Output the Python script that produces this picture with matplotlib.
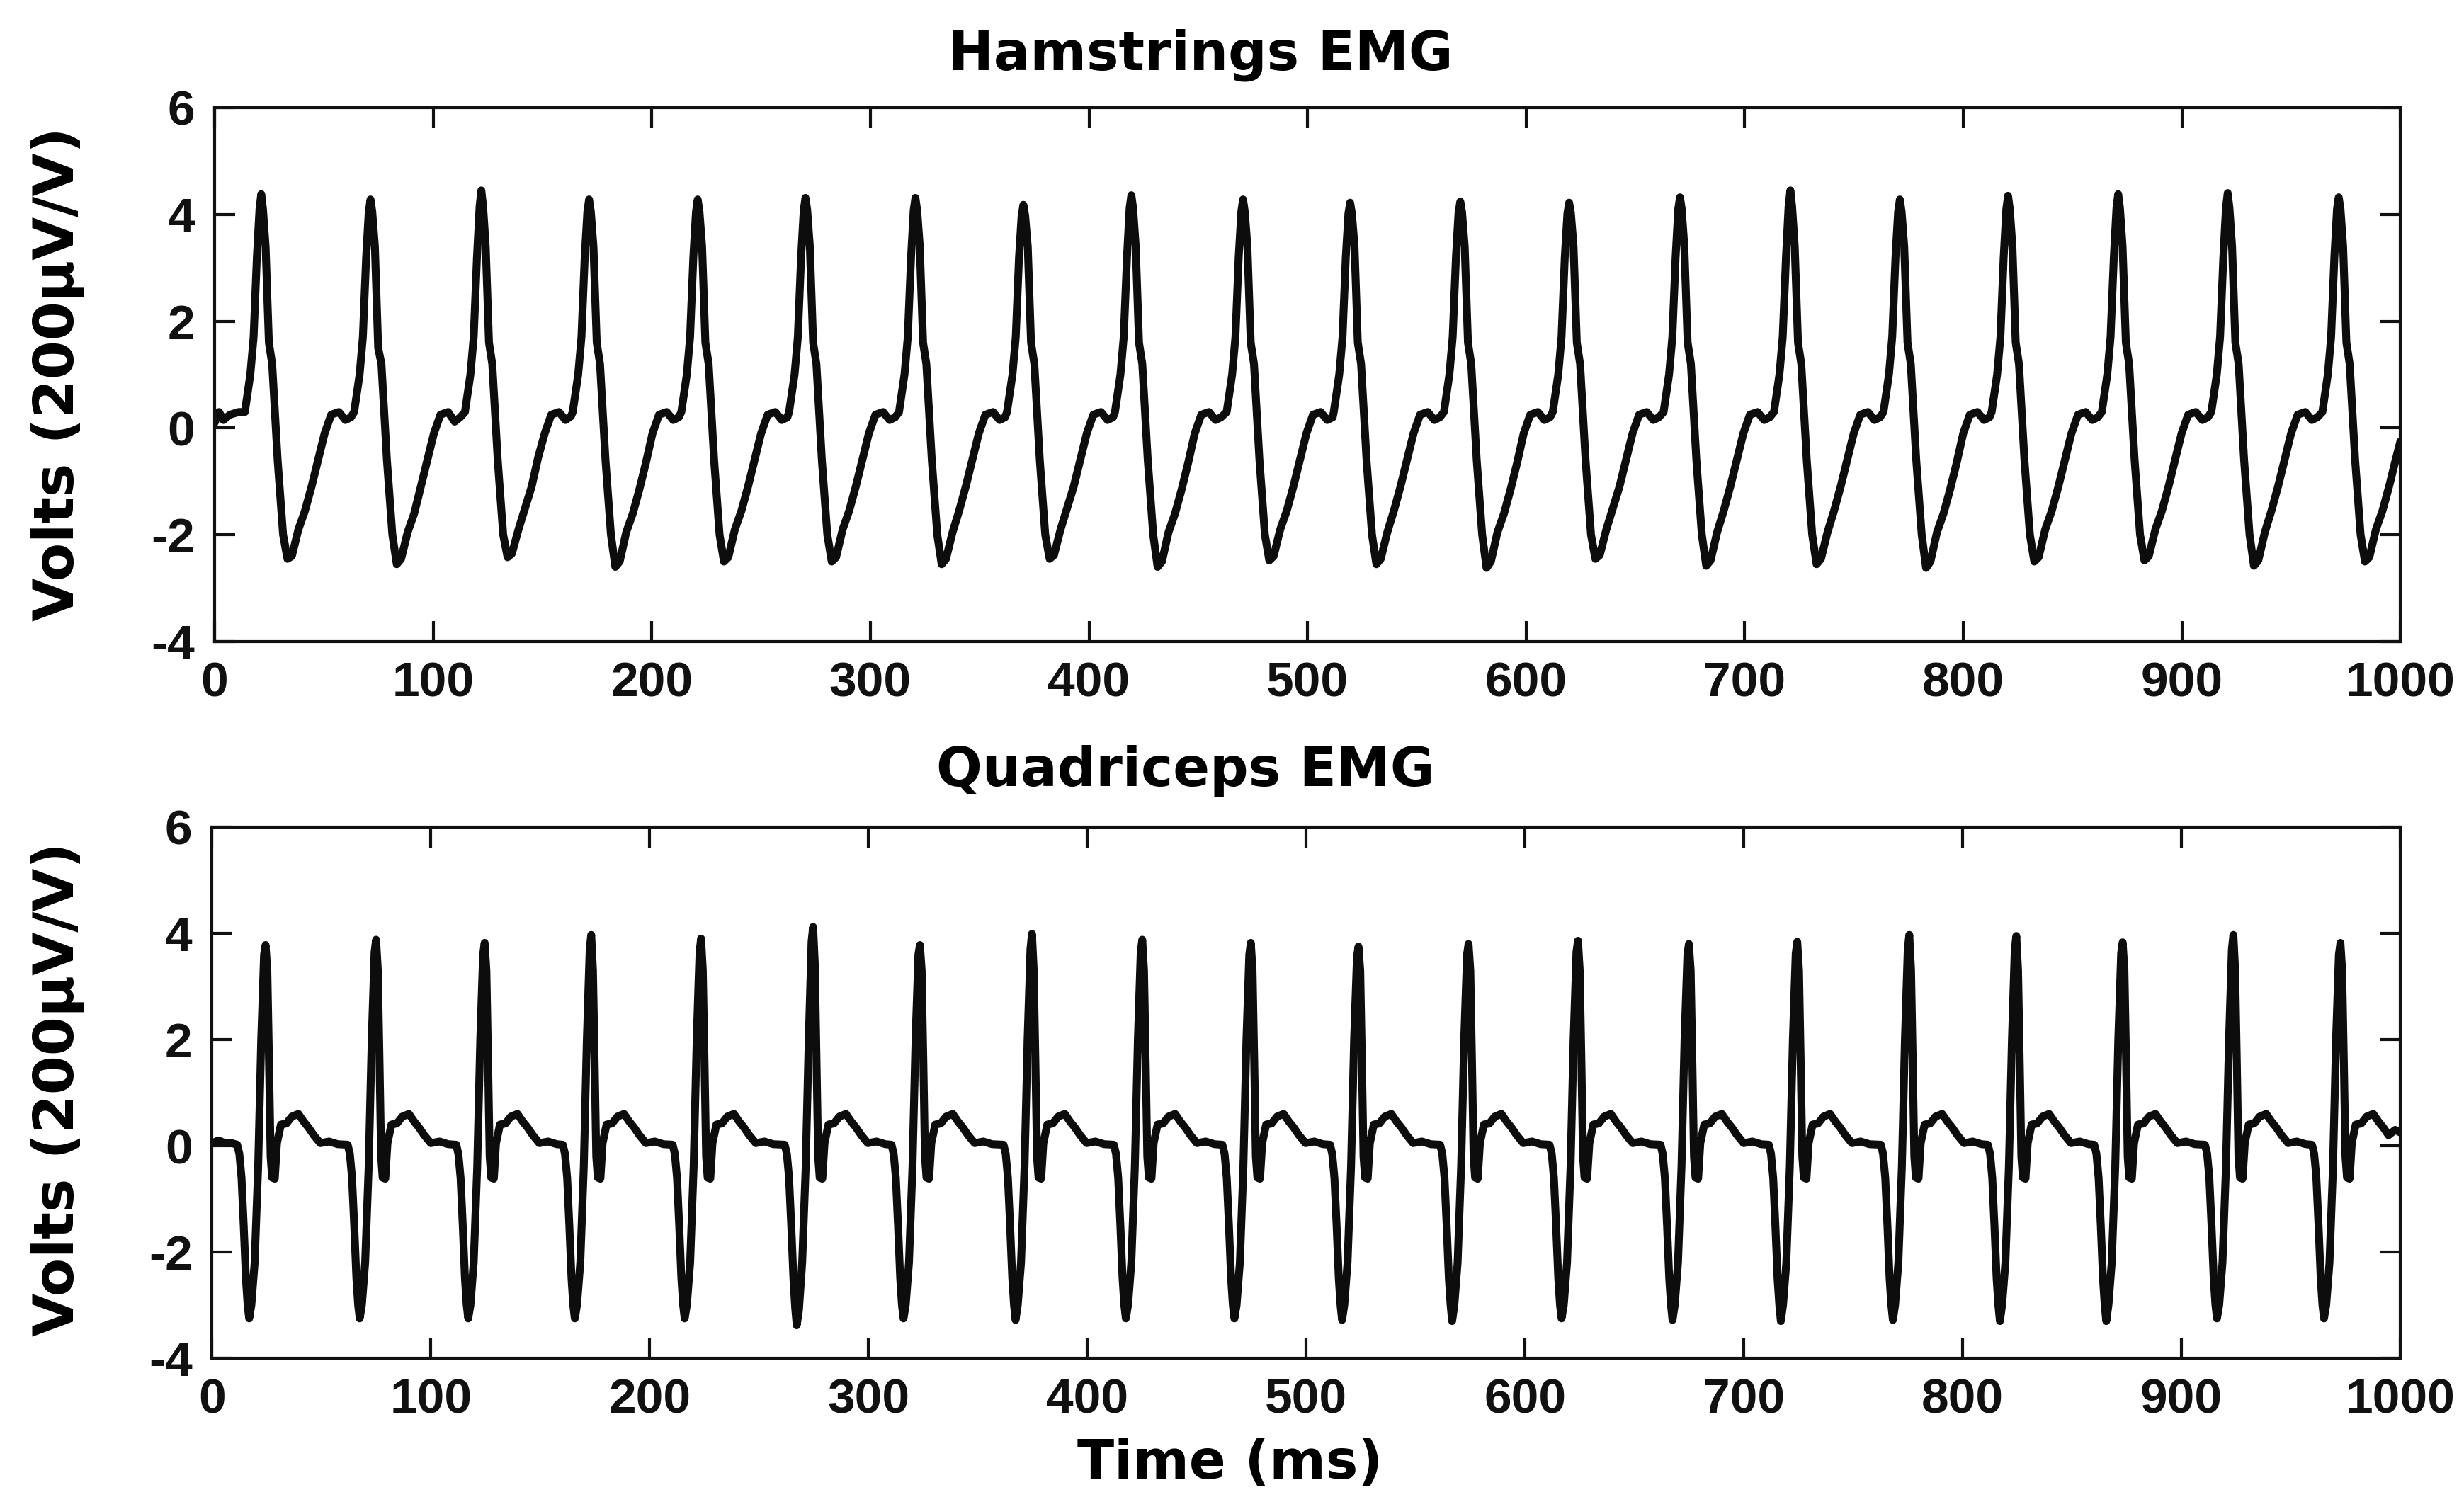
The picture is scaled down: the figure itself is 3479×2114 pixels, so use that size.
import matplotlib
matplotlib.use("Agg")
import matplotlib.pyplot as plt

plt.rcParams['font.family'] = ['Liberation Sans', 'DejaVu Sans']
plt.rcParams['font.weight'] = 'bold'
plt.rcParams['axes.unicode_minus'] = False

# ---------------- text ----------------
title_top = "Hamstrings EMG"
title_bottom = "Quadriceps EMG"
y_label = "Volts (200\u03bcV/V)"
x_label = "Time (ms)"
x_ticks = [0, 100, 200, 300, 400, 500, 600, 700, 800, 900, 1000]
y_ticks = [-4, -2, 0, 2, 4, 6]

# ---------------- Hamstrings EMG (time in ms, value) ----------------
ham_t = [
    0.0, 2.0, 4.0, 7.0, 11.0,
    13.8, 16.3, 17.8, 19.3, 20.5, 21.3, 22.1, 23.3, 24.8, 26.3, 28.8, 31.3, 33.3, 35.3, 38.3, 41.3, 44.3, 47.3, 50.3, 53.3, 56.8, 59.8, 62.3,
    63.8, 66.3, 67.8, 69.3, 70.5, 71.3, 72.1, 73.3, 74.8, 76.3, 78.8, 81.3, 83.3, 85.3, 88.3, 91.3, 94.3, 97.3, 100.3, 103.3, 106.8, 109.8, 112.3,
    114.5, 117.0, 118.5, 120.0, 121.2, 122.0, 122.8, 124.0, 125.5, 127.0, 129.5, 132.0, 134.0, 136.0, 139.0, 142.0, 145.0, 148.0, 151.0, 154.0, 157.5, 160.5, 163.0,
    163.8, 166.3, 167.8, 169.3, 170.5, 171.3, 172.1, 173.3, 174.8, 176.3, 178.8, 181.3, 183.3, 185.3, 188.3, 191.3, 194.3, 197.3, 200.3, 203.3, 206.8, 209.8, 212.3,
    213.5, 216.0, 217.5, 219.0, 220.2, 221.0, 221.8, 223.0, 224.5, 226.0, 228.5, 231.0, 233.0, 235.0, 238.0, 241.0, 244.0, 247.0, 250.0, 253.0, 256.5, 259.5, 262.0,
    262.8, 265.3, 266.8, 268.3, 269.5, 270.3, 271.1, 272.3, 273.8, 275.3, 277.8, 280.3, 282.3, 284.3, 287.3, 290.3, 293.3, 296.3, 299.3, 302.3, 305.8, 308.8, 311.3,
    313.1, 315.6, 317.1, 318.6, 319.8, 320.6, 321.4, 322.6, 324.1, 325.6, 328.1, 330.6, 332.6, 334.6, 337.6, 340.6, 343.6, 346.6, 349.6, 352.6, 356.1, 359.1, 361.6,
    362.5, 365.0, 366.5, 368.0, 369.2, 370.0, 370.8, 372.0, 373.5, 375.0, 377.5, 380.0, 382.0, 384.0, 387.0, 390.0, 393.0, 396.0, 399.0, 402.0, 405.5, 408.5, 411.0,
    411.9, 414.4, 415.9, 417.4, 418.6, 419.4, 420.2, 421.4, 422.9, 424.4, 426.9, 429.4, 431.4, 433.4, 436.4, 439.4, 442.4, 445.4, 448.4, 451.4, 454.9, 457.9, 460.4,
    463.0, 465.5, 467.0, 468.5, 469.7, 470.5, 471.3, 472.5, 474.0, 475.5, 478.0, 480.5, 482.5, 484.5, 487.5, 490.5, 493.5, 496.5, 499.5, 502.5, 506.0, 509.0, 511.5,
    512.0, 514.5, 516.0, 517.5, 518.7, 519.5, 520.3, 521.5, 523.0, 524.5, 527.0, 529.5, 531.5, 533.5, 536.5, 539.5, 542.5, 545.5, 548.5, 551.5, 555.0, 558.0, 560.5,
    562.4, 564.9, 566.4, 567.9, 569.1, 569.9, 570.7, 571.9, 573.4, 574.9, 577.4, 579.9, 581.9, 583.9, 586.9, 589.9, 592.9, 595.9, 598.9, 601.9, 605.4, 608.4, 610.9,
    612.2, 614.7, 616.2, 617.7, 618.9, 619.7, 620.5, 621.7, 623.2, 624.7, 627.2, 629.7, 631.7, 633.7, 636.7, 639.7, 642.7, 645.7, 648.7, 651.7, 655.2, 658.2, 660.7,
    662.9, 665.4, 666.9, 668.4, 669.6, 670.4, 671.2, 672.4, 673.9, 675.4, 677.9, 680.4, 682.4, 684.4, 687.4, 690.4, 693.4, 696.4, 699.4, 702.4, 705.9, 708.9, 711.4,
    713.4, 715.9, 717.4, 718.9, 720.1, 720.9, 721.7, 722.9, 724.4, 725.9, 728.4, 730.9, 732.9, 734.9, 737.9, 740.9, 743.9, 746.9, 749.9, 752.9, 756.4, 759.4, 761.9,
    763.5, 766.0, 767.5, 769.0, 770.2, 771.0, 771.8, 773.0, 774.5, 776.0, 778.5, 781.0, 783.0, 785.0, 788.0, 791.0, 794.0, 797.0, 800.0, 803.0, 806.5, 809.5, 812.0,
    813.0, 815.5, 817.0, 818.5, 819.7, 820.5, 821.3, 822.5, 824.0, 825.5, 828.0, 830.5, 832.5, 834.5, 837.5, 840.5, 843.5, 846.5, 849.5, 852.5, 856.0, 859.0, 861.5,
    863.4, 865.9, 867.4, 868.9, 870.1, 870.9, 871.7, 872.9, 874.4, 875.9, 878.4, 880.9, 882.9, 884.9, 887.9, 890.9, 893.9, 896.9, 899.9, 902.9, 906.4, 909.4, 911.9,
    913.5, 916.0, 917.5, 919.0, 920.2, 921.0, 921.8, 923.0, 924.5, 926.0, 928.5, 931.0, 933.0, 935.0, 938.0, 941.0, 944.0, 947.0, 950.0, 953.0, 956.5, 959.5, 962.0,
    964.3, 966.8, 968.3, 969.8, 971.0, 971.8, 972.6, 973.8, 975.3, 976.8, 979.3, 981.8, 983.8, 985.8, 988.8, 991.8, 994.8, 997.8, 1000.0,
]
ham_v = [
    0.10, 0.30, 0.15, 0.25, 0.30,
    0.30, 1.00, 1.70, 3.20, 4.10, 4.38, 4.10, 3.40, 1.60, 1.20, -0.60, -2.00, -2.45, -2.40, -1.90, -1.55, -1.10, -0.60, -0.10, 0.25, 0.30, 0.15, 0.20,
    0.30, 1.00, 1.70, 3.20, 4.05, 4.28, 4.05, 3.40, 1.50, 1.20, -0.60, -2.00, -2.55, -2.45, -1.95, -1.60, -1.10, -0.60, -0.10, 0.25, 0.30, 0.12, 0.20,
    0.30, 1.00, 1.70, 3.20, 4.15, 4.45, 4.15, 3.40, 1.60, 1.20, -0.60, -2.00, -2.42, -2.35, -1.90, -1.50, -1.10, -0.55, -0.10, 0.25, 0.30, 0.15, 0.22,
    0.30, 1.00, 1.70, 3.20, 4.05, 4.28, 4.05, 3.40, 1.60, 1.20, -0.60, -2.00, -2.60, -2.50, -1.95, -1.60, -1.15, -0.65, -0.10, 0.25, 0.30, 0.15, 0.20,
    0.30, 1.00, 1.70, 3.20, 4.05, 4.28, 4.05, 3.40, 1.60, 1.20, -0.60, -2.00, -2.50, -2.42, -1.90, -1.55, -1.10, -0.60, -0.10, 0.25, 0.30, 0.15, 0.20,
    0.30, 1.00, 1.70, 3.20, 4.08, 4.31, 4.08, 3.40, 1.60, 1.20, -0.60, -2.00, -2.50, -2.42, -1.90, -1.55, -1.10, -0.60, -0.10, 0.25, 0.30, 0.15, 0.20,
    0.30, 1.00, 1.70, 3.20, 4.08, 4.31, 4.08, 3.40, 1.60, 1.20, -0.60, -2.00, -2.55, -2.45, -1.95, -1.55, -1.10, -0.60, -0.10, 0.25, 0.30, 0.15, 0.20,
    0.30, 1.00, 1.70, 3.20, 3.98, 4.18, 3.98, 3.40, 1.60, 1.20, -0.60, -2.00, -2.45, -2.38, -1.90, -1.50, -1.10, -0.60, -0.10, 0.25, 0.30, 0.15, 0.20,
    0.30, 1.00, 1.70, 3.20, 4.12, 4.36, 4.12, 3.40, 1.60, 1.20, -0.60, -2.00, -2.60, -2.50, -1.95, -1.60, -1.15, -0.65, -0.10, 0.25, 0.30, 0.15, 0.20,
    0.30, 1.00, 1.70, 3.20, 4.05, 4.28, 4.05, 3.40, 1.60, 1.20, -0.60, -2.00, -2.48, -2.40, -1.90, -1.55, -1.10, -0.60, -0.10, 0.25, 0.30, 0.15, 0.20,
    0.30, 1.00, 1.70, 3.20, 4.02, 4.22, 4.02, 3.40, 1.60, 1.20, -0.60, -2.00, -2.55, -2.45, -1.95, -1.55, -1.10, -0.60, -0.10, 0.25, 0.30, 0.15, 0.20,
    0.30, 1.00, 1.70, 3.20, 4.04, 4.24, 4.04, 3.40, 1.60, 1.20, -0.60, -2.00, -2.62, -2.50, -1.95, -1.60, -1.15, -0.65, -0.10, 0.25, 0.30, 0.15, 0.20,
    0.30, 1.00, 1.70, 3.20, 4.02, 4.22, 4.02, 3.40, 1.60, 1.20, -0.60, -2.00, -2.45, -2.38, -1.90, -1.50, -1.10, -0.60, -0.10, 0.25, 0.30, 0.15, 0.20,
    0.30, 1.00, 1.70, 3.20, 4.10, 4.32, 4.10, 3.40, 1.60, 1.20, -0.60, -2.00, -2.58, -2.48, -1.95, -1.55, -1.10, -0.60, -0.10, 0.25, 0.30, 0.15, 0.20,
    0.30, 1.00, 1.70, 3.20, 4.15, 4.45, 4.15, 3.40, 1.60, 1.20, -0.60, -2.00, -2.55, -2.45, -1.95, -1.55, -1.10, -0.60, -0.10, 0.25, 0.30, 0.15, 0.20,
    0.30, 1.00, 1.70, 3.20, 4.05, 4.28, 4.05, 3.40, 1.60, 1.20, -0.60, -2.00, -2.62, -2.50, -1.95, -1.60, -1.15, -0.65, -0.10, 0.25, 0.30, 0.15, 0.20,
    0.30, 1.00, 1.70, 3.20, 4.10, 4.35, 4.10, 3.40, 1.60, 1.20, -0.60, -2.00, -2.50, -2.42, -1.90, -1.55, -1.10, -0.60, -0.10, 0.25, 0.30, 0.15, 0.20,
    0.30, 1.00, 1.70, 3.20, 4.12, 4.38, 4.12, 3.40, 1.60, 1.20, -0.60, -2.00, -2.48, -2.40, -1.90, -1.55, -1.10, -0.60, -0.10, 0.25, 0.30, 0.15, 0.20,
    0.30, 1.00, 1.70, 3.20, 4.12, 4.40, 4.12, 3.40, 1.60, 1.20, -0.60, -2.00, -2.58, -2.48, -1.95, -1.55, -1.10, -0.60, -0.10, 0.25, 0.30, 0.15, 0.20,
    0.30, 1.00, 1.70, 3.20, 4.10, 4.32, 4.10, 3.40, 1.60, 1.20, -0.60, -2.00, -2.50, -2.42, -1.90, -1.55, -1.10, -0.60, -0.25,
]

# ---------------- Quadriceps EMG (time in ms, value) ----------------
quad_t = [
    0.0, 3.0, 6.0, 9.0,
    11.5, 12.5, 13.5, 14.5, 15.5, 16.3, 17.0, 18.0, 19.5, 21.1, 22.5, 23.8, 24.5, 25.3, 26.1, 26.8, 27.5, 28.7, 29.7, 31.5, 34.0, 36.5, 39.5, 42.0, 44.0, 46.5, 49.5, 53.5, 57.5,
    62.0, 63.0, 64.0, 65.0, 66.0, 66.8, 67.5, 68.5, 70.0, 71.6, 73.0, 74.3, 75.0, 75.8, 76.6, 77.3, 78.0, 79.2, 80.2, 82.0, 84.5, 87.0, 90.0, 92.5, 94.5, 97.0, 100.0, 104.0, 108.0,
    111.6, 112.6, 113.6, 114.6, 115.6, 116.4, 117.1, 118.1, 119.6, 121.2, 122.6, 123.9, 124.6, 125.4, 126.2, 126.9, 127.6, 128.8, 129.8, 131.6, 134.1, 136.6, 139.6, 142.1, 144.1, 146.6, 149.6, 153.6, 157.6,
    160.3, 161.3, 162.3, 163.3, 164.3, 165.1, 165.8, 166.8, 168.3, 169.9, 171.3, 172.6, 173.3, 174.1, 174.9, 175.6, 176.3, 177.5, 178.5, 180.3, 182.8, 185.3, 188.3, 190.8, 192.8, 195.3, 198.3, 202.3, 206.3,
    210.5, 211.5, 212.5, 213.5, 214.5, 215.3, 216.0, 217.0, 218.5, 220.1, 221.5, 222.8, 223.5, 224.3, 225.1, 225.8, 226.5, 227.7, 228.7, 230.5, 233.0, 235.5, 238.5, 241.0, 243.0, 245.5, 248.5, 252.5, 256.5,
    261.7, 262.7, 263.7, 264.7, 265.7, 266.5, 267.2, 268.2, 269.7, 271.3, 272.7, 274.0, 274.7, 275.5, 276.3, 277.0, 277.7, 278.9, 279.9, 281.7, 284.2, 286.7, 289.7, 292.2, 294.2, 296.7, 299.7, 303.7, 307.7,
    310.5, 311.5, 312.5, 313.5, 314.5, 315.3, 316.0, 317.0, 318.5, 320.1, 321.5, 322.8, 323.5, 324.3, 325.1, 325.8, 326.5, 327.7, 328.7, 330.5, 333.0, 335.5, 338.5, 341.0, 343.0, 345.5, 348.5, 352.5, 356.5,
    361.7, 362.7, 363.7, 364.7, 365.7, 366.5, 367.2, 368.2, 369.7, 371.3, 372.7, 374.0, 374.7, 375.5, 376.3, 377.0, 377.7, 378.9, 379.9, 381.7, 384.2, 386.7, 389.7, 392.2, 394.2, 396.7, 399.7, 403.7, 407.7,
    412.1, 413.1, 414.1, 415.1, 416.1, 416.9, 417.6, 418.6, 420.1, 421.7, 423.1, 424.4, 425.1, 425.9, 426.7, 427.4, 428.1, 429.3, 430.3, 432.1, 434.6, 437.1, 440.1, 442.6, 444.6, 447.1, 450.1, 454.1, 458.1,
    461.7, 462.7, 463.7, 464.7, 465.7, 466.5, 467.2, 468.2, 469.7, 471.3, 472.7, 474.0, 474.7, 475.5, 476.3, 477.0, 477.7, 478.9, 479.9, 481.7, 484.2, 486.7, 489.7, 492.2, 494.2, 496.7, 499.7, 503.7, 507.7,
    510.9, 511.9, 512.9, 513.9, 514.9, 515.7, 516.4, 517.4, 518.9, 520.5, 521.9, 523.2, 523.9, 524.7, 525.5, 526.2, 526.9, 528.1, 529.1, 530.9, 533.4, 535.9, 538.9, 541.4, 543.4, 545.9, 548.9, 552.9, 556.9,
    561.2, 562.2, 563.2, 564.2, 565.2, 566.0, 566.7, 567.7, 569.2, 570.8, 572.2, 573.5, 574.2, 575.0, 575.8, 576.5, 577.2, 578.4, 579.4, 581.2, 583.7, 586.2, 589.2, 591.7, 593.7, 596.2, 599.2, 603.2, 607.2,
    611.2, 612.2, 613.2, 614.2, 615.2, 616.0, 616.7, 617.7, 619.2, 620.8, 622.2, 623.5, 624.2, 625.0, 625.8, 626.5, 627.2, 628.4, 629.4, 631.2, 633.7, 636.2, 639.2, 641.7, 643.7, 646.2, 649.2, 653.2, 657.2,
    661.9, 662.9, 663.9, 664.9, 665.9, 666.7, 667.4, 668.4, 669.9, 671.5, 672.9, 674.2, 674.9, 675.7, 676.5, 677.2, 677.9, 679.1, 680.1, 681.9, 684.4, 686.9, 689.9, 692.4, 694.4, 696.9, 699.9, 703.9, 707.9,
    711.4, 712.4, 713.4, 714.4, 715.4, 716.2, 716.9, 717.9, 719.4, 721.0, 722.4, 723.7, 724.4, 725.2, 726.0, 726.7, 727.4, 728.6, 729.6, 731.4, 733.9, 736.4, 739.4, 741.9, 743.9, 746.4, 749.4, 753.4, 757.4,
    762.6, 763.6, 764.6, 765.6, 766.6, 767.4, 768.1, 769.1, 770.6, 772.2, 773.6, 774.9, 775.6, 776.4, 777.2, 777.9, 778.6, 779.8, 780.8, 782.6, 785.1, 787.6, 790.6, 793.1, 795.1, 797.6, 800.6, 804.6, 808.6,
    811.5, 812.5, 813.5, 814.5, 815.5, 816.3, 817.0, 818.0, 819.5, 821.1, 822.5, 823.8, 824.5, 825.3, 826.1, 826.8, 827.5, 828.7, 829.7, 831.5, 834.0, 836.5, 839.5, 842.0, 844.0, 846.5, 849.5, 853.5, 857.5,
    860.1, 861.1, 862.1, 863.1, 864.1, 864.9, 865.6, 866.6, 868.1, 869.7, 871.1, 872.4, 873.1, 873.9, 874.7, 875.4, 876.1, 877.3, 878.3, 880.1, 882.6, 885.1, 888.1, 890.6, 892.6, 895.1, 898.1, 902.1, 906.1,
    910.7, 911.7, 912.7, 913.7, 914.7, 915.5, 916.2, 917.2, 918.7, 920.3, 921.7, 923.0, 923.7, 924.5, 925.3, 926.0, 926.7, 927.9, 928.9, 930.7, 933.2, 935.7, 938.7, 941.2, 943.2, 945.7, 948.7, 952.7, 956.7,
    959.6, 960.6, 961.6, 962.6, 963.6, 964.4, 965.1, 966.1, 967.6, 969.2, 970.6, 971.9, 972.6, 973.4, 974.2, 974.9, 975.6, 976.8, 977.8, 979.6, 982.1, 984.6, 987.6, 990.1, 992.1, 994.6, 997.6, 1000.0,
]
quad_v = [
    0.05, 0.10, 0.05, 0.05,
    0.02, -0.15, -0.60, -1.50, -2.50, -3.00, -3.25, -3.00, -2.20, -0.40, 2.00, 3.60, 3.78, 3.30, 1.50, -0.20, -0.60, -0.62, 0.05, 0.40, 0.42, 0.55, 0.60, 0.45, 0.35, 0.20, 0.05, 0.08, 0.03,
    0.02, -0.15, -0.60, -1.50, -2.50, -3.00, -3.25, -3.00, -2.20, -0.40, 2.00, 3.65, 3.88, 3.30, 1.50, -0.20, -0.60, -0.62, 0.05, 0.40, 0.42, 0.55, 0.60, 0.45, 0.35, 0.20, 0.05, 0.08, 0.03,
    0.02, -0.15, -0.60, -1.50, -2.50, -3.00, -3.25, -3.00, -2.20, -0.40, 2.00, 3.60, 3.82, 3.30, 1.50, -0.20, -0.60, -0.62, 0.05, 0.40, 0.42, 0.55, 0.60, 0.45, 0.35, 0.20, 0.05, 0.08, 0.03,
    0.02, -0.15, -0.60, -1.50, -2.50, -3.00, -3.25, -3.00, -2.20, -0.40, 2.00, 3.70, 3.97, 3.30, 1.50, -0.20, -0.60, -0.62, 0.05, 0.40, 0.42, 0.55, 0.60, 0.45, 0.35, 0.20, 0.05, 0.08, 0.03,
    0.02, -0.15, -0.60, -1.50, -2.50, -3.00, -3.25, -3.00, -2.20, -0.40, 2.00, 3.65, 3.90, 3.30, 1.50, -0.20, -0.60, -0.62, 0.05, 0.40, 0.42, 0.55, 0.60, 0.45, 0.35, 0.20, 0.05, 0.08, 0.03,
    0.02, -0.15, -0.60, -1.50, -2.50, -3.05, -3.38, -3.10, -2.20, -0.40, 2.00, 3.85, 4.12, 3.40, 1.50, -0.20, -0.60, -0.62, 0.05, 0.40, 0.42, 0.55, 0.60, 0.45, 0.35, 0.20, 0.05, 0.08, 0.03,
    0.02, -0.15, -0.60, -1.50, -2.50, -3.00, -3.25, -3.00, -2.20, -0.40, 2.00, 3.60, 3.78, 3.30, 1.50, -0.20, -0.60, -0.62, 0.05, 0.40, 0.42, 0.55, 0.60, 0.45, 0.35, 0.20, 0.05, 0.08, 0.03,
    0.02, -0.15, -0.60, -1.50, -2.50, -3.00, -3.28, -3.00, -2.20, -0.40, 2.00, 3.70, 3.99, 3.30, 1.50, -0.20, -0.60, -0.62, 0.05, 0.40, 0.42, 0.55, 0.60, 0.45, 0.35, 0.20, 0.05, 0.08, 0.03,
    0.02, -0.15, -0.60, -1.50, -2.50, -3.00, -3.25, -3.00, -2.20, -0.40, 2.00, 3.65, 3.88, 3.30, 1.50, -0.20, -0.60, -0.62, 0.05, 0.40, 0.42, 0.55, 0.60, 0.45, 0.35, 0.20, 0.05, 0.08, 0.03,
    0.02, -0.15, -0.60, -1.50, -2.50, -3.00, -3.25, -3.00, -2.20, -0.40, 2.00, 3.60, 3.82, 3.30, 1.50, -0.20, -0.60, -0.62, 0.05, 0.40, 0.42, 0.55, 0.60, 0.45, 0.35, 0.20, 0.05, 0.08, 0.03,
    0.02, -0.15, -0.60, -1.50, -2.50, -3.00, -3.28, -3.00, -2.20, -0.40, 2.00, 3.55, 3.75, 3.30, 1.50, -0.20, -0.60, -0.62, 0.05, 0.40, 0.42, 0.55, 0.60, 0.45, 0.35, 0.20, 0.05, 0.08, 0.03,
    0.02, -0.15, -0.60, -1.50, -2.50, -3.00, -3.30, -3.00, -2.20, -0.40, 2.00, 3.60, 3.80, 3.30, 1.50, -0.20, -0.60, -0.62, 0.05, 0.40, 0.42, 0.55, 0.60, 0.45, 0.35, 0.20, 0.05, 0.08, 0.03,
    0.02, -0.15, -0.60, -1.50, -2.50, -3.00, -3.25, -3.00, -2.20, -0.40, 2.00, 3.65, 3.86, 3.30, 1.50, -0.20, -0.60, -0.62, 0.05, 0.40, 0.42, 0.55, 0.60, 0.45, 0.35, 0.20, 0.05, 0.08, 0.03,
    0.02, -0.15, -0.60, -1.50, -2.50, -3.00, -3.28, -3.00, -2.20, -0.40, 2.00, 3.60, 3.80, 3.30, 1.50, -0.20, -0.60, -0.62, 0.05, 0.40, 0.42, 0.55, 0.60, 0.45, 0.35, 0.20, 0.05, 0.08, 0.03,
    0.02, -0.15, -0.60, -1.50, -2.50, -3.00, -3.30, -3.00, -2.20, -0.40, 2.00, 3.62, 3.84, 3.30, 1.50, -0.20, -0.60, -0.62, 0.05, 0.40, 0.42, 0.55, 0.60, 0.45, 0.35, 0.20, 0.05, 0.08, 0.03,
    0.02, -0.15, -0.60, -1.50, -2.50, -3.00, -3.28, -3.00, -2.20, -0.40, 2.00, 3.70, 3.97, 3.30, 1.50, -0.20, -0.60, -0.62, 0.05, 0.40, 0.42, 0.55, 0.60, 0.45, 0.35, 0.20, 0.05, 0.08, 0.03,
    0.02, -0.15, -0.60, -1.50, -2.50, -3.00, -3.30, -3.00, -2.20, -0.40, 2.00, 3.70, 3.95, 3.30, 1.50, -0.20, -0.60, -0.62, 0.05, 0.40, 0.42, 0.55, 0.60, 0.45, 0.35, 0.20, 0.05, 0.08, 0.03,
    0.02, -0.15, -0.60, -1.50, -2.50, -3.00, -3.30, -3.00, -2.20, -0.40, 2.00, 3.62, 3.83, 3.30, 1.50, -0.20, -0.60, -0.62, 0.05, 0.40, 0.42, 0.55, 0.60, 0.45, 0.35, 0.20, 0.05, 0.08, 0.03,
    0.02, -0.15, -0.60, -1.50, -2.50, -3.00, -3.25, -3.00, -2.20, -0.40, 2.00, 3.70, 3.97, 3.30, 1.50, -0.20, -0.60, -0.62, 0.05, 0.40, 0.42, 0.55, 0.60, 0.45, 0.35, 0.20, 0.05, 0.08, 0.03,
    0.02, -0.15, -0.60, -1.50, -2.50, -3.00, -3.25, -3.00, -2.20, -0.40, 2.00, 3.60, 3.82, 3.30, 1.50, -0.20, -0.60, -0.62, 0.05, 0.40, 0.42, 0.55, 0.60, 0.45, 0.35, 0.20, 0.30, 0.25,
]

# ---------------- drawing ----------------
fig = plt.figure(figsize=(34.8, 21.14), dpi=100)
ax1 = fig.add_axes([0.0871, 0.5714, 0.8868, 0.3567])
ax2 = fig.add_axes([0.0860, 0.0927, 0.8879, 0.3548])

for ax, t, v in ((ax1, ham_t, ham_v), (ax2, quad_t, quad_v)):
    ax.plot(t, v, color='#0d0d0d', lw=8, solid_joinstyle='round', solid_capstyle='round')
    ax.set_xlim(0, 1000)
    ax.set_ylim(-4, 6)
    ax.set_xticks(x_ticks)
    ax.set_yticks(y_ticks)
    ax.tick_params(direction='in', length=21, width=3, top=True, right=True,
                   labelsize=50, pad=20, colors='#111111')
    for s in ax.spines.values():
        s.set_linewidth(3)
        s.set_color('#111111')

label_font = ['DejaVu Sans']
fig.text(0.487, 0.9536, title_top, ha='center', va='baseline', fontsize=55,
         fontweight='bold', family=label_font)
fig.text(0.481, 0.4749, title_bottom, ha='center', va='baseline', fontsize=55,
         fontweight='bold', family=label_font)
fig.text(0.499, 0.0123, x_label, ha='center', va='baseline', fontsize=55,
         fontweight='bold', family=label_font)
fig.text(0.0236, 0.750, y_label, ha='center', va='center', rotation=90, fontsize=57,
         fontweight='bold', family=label_font)
fig.text(0.0236, 0.2725, y_label, ha='center', va='center', rotation=90, fontsize=57,
         fontweight='bold', family=label_font)

fig.savefig("out.png", dpi=100)
